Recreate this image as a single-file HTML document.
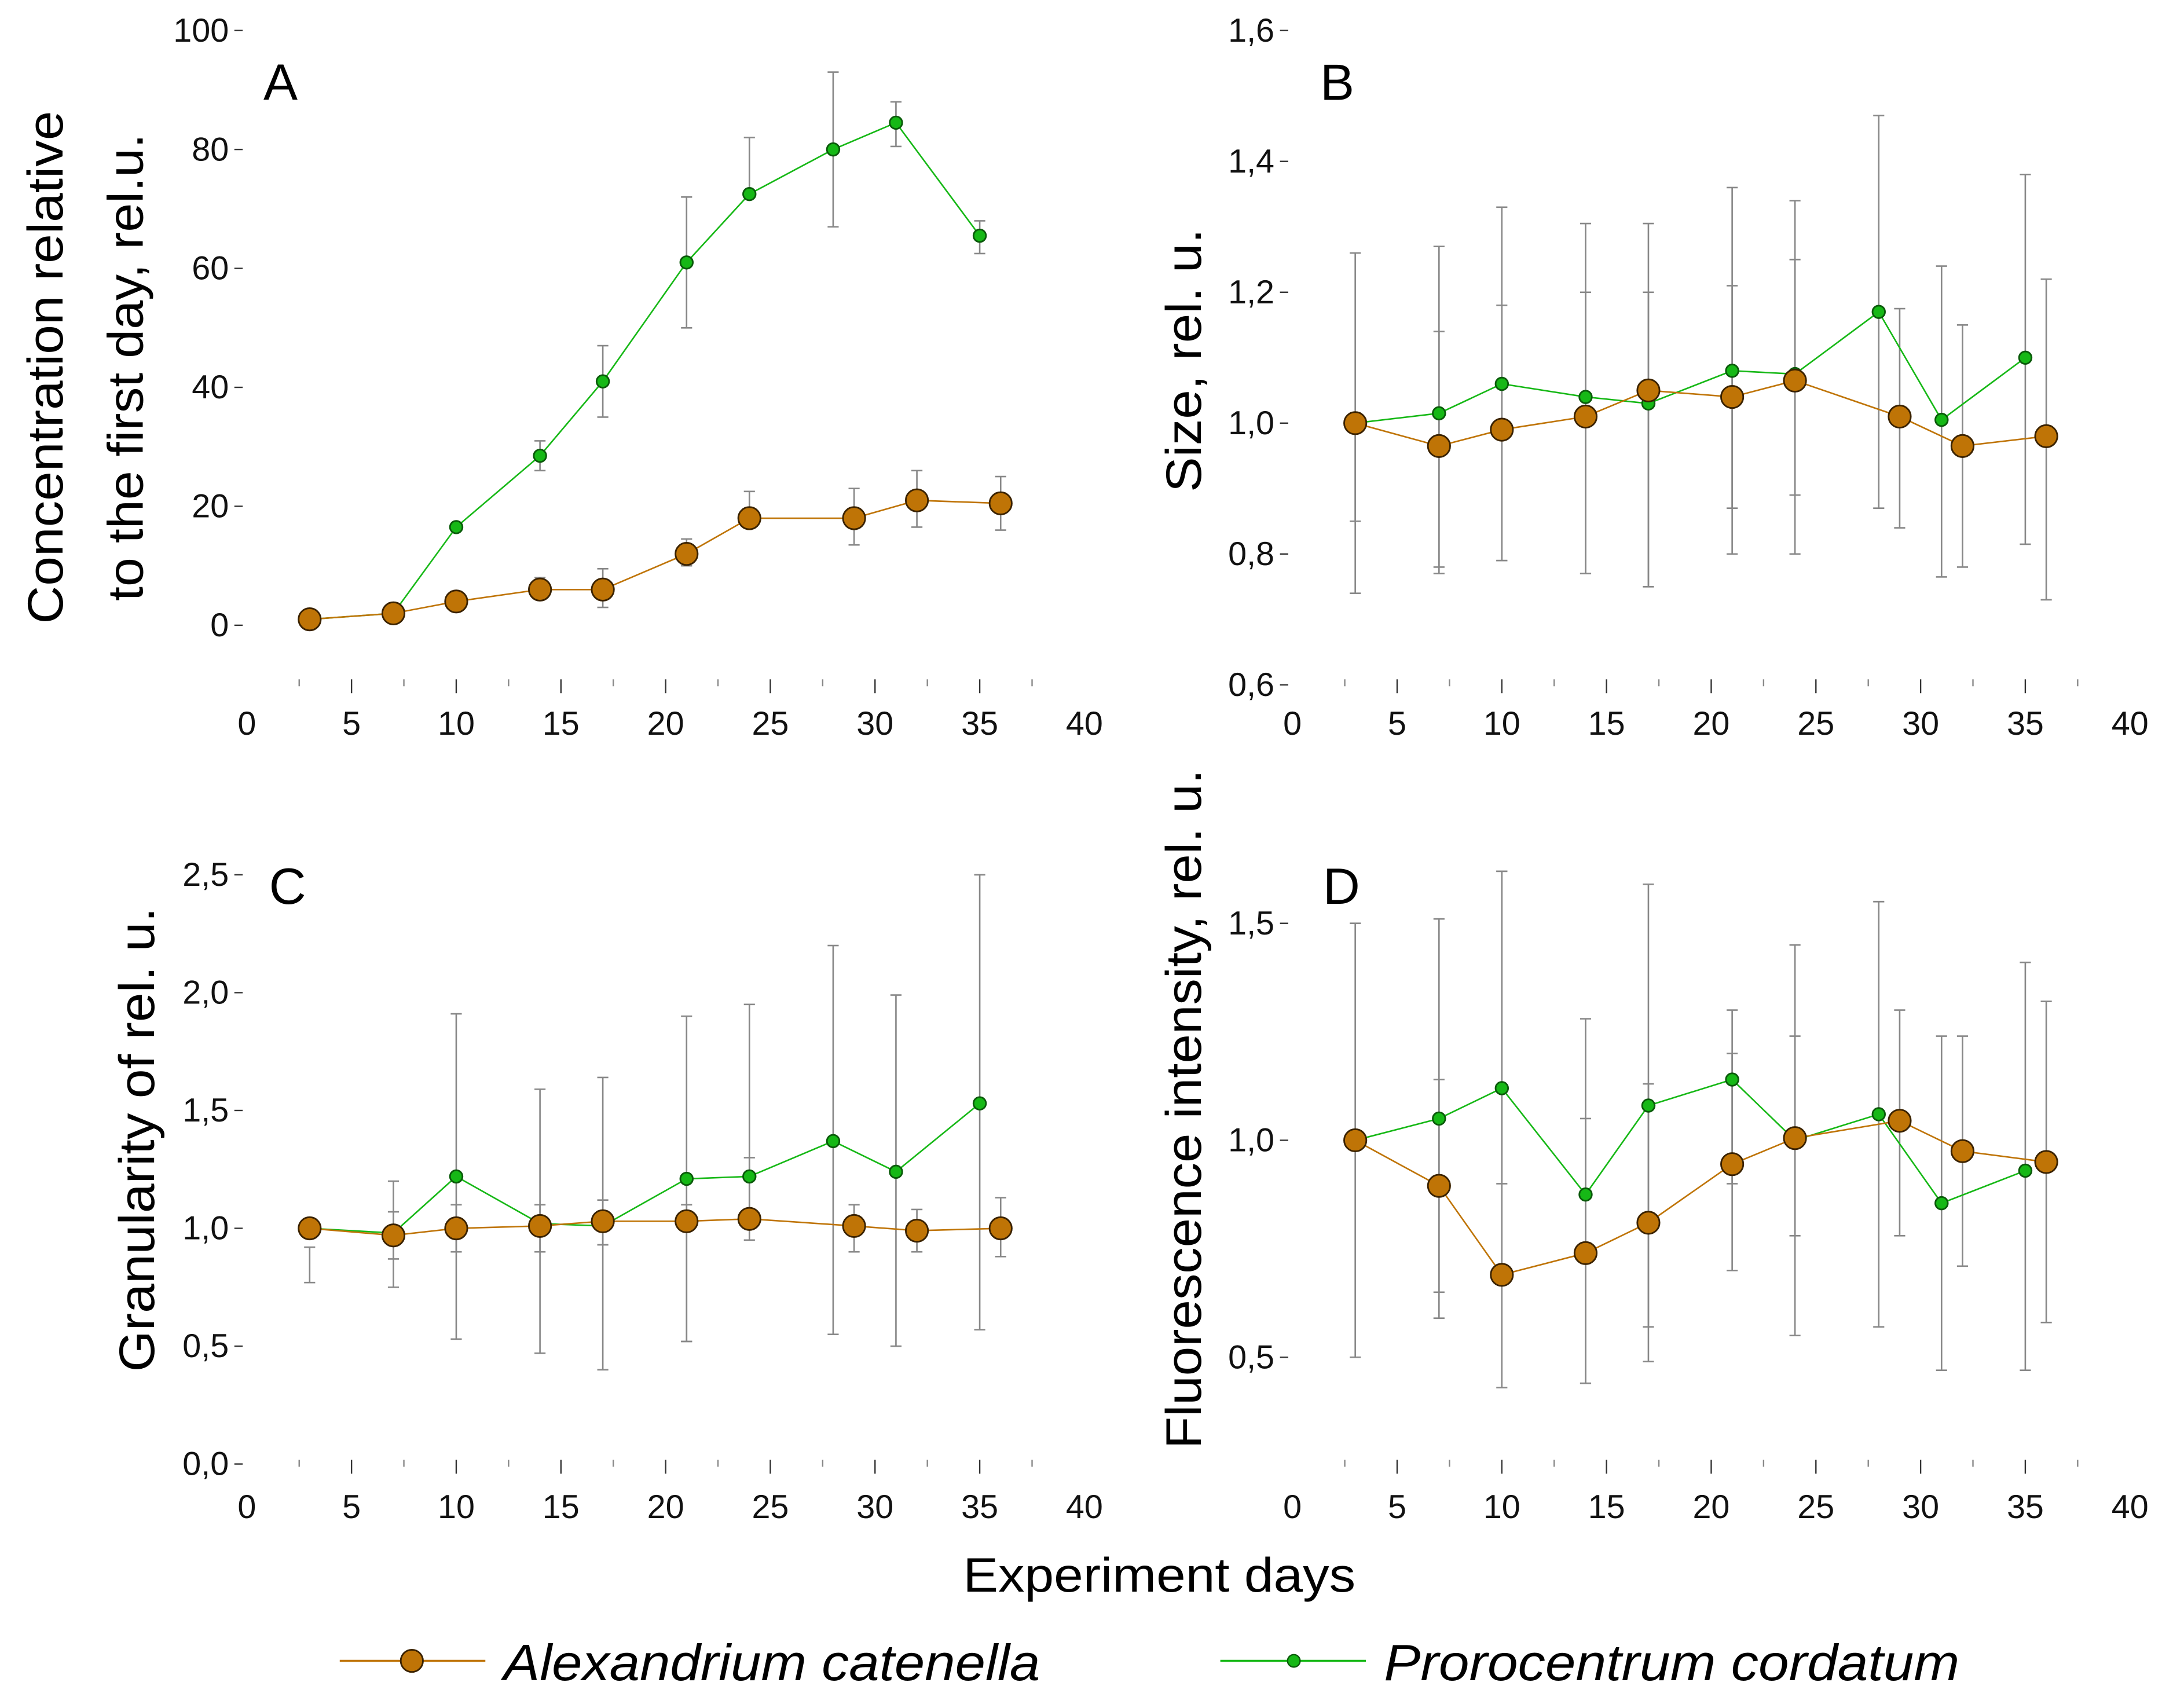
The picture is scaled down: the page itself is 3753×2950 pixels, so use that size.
<!DOCTYPE html>
<html><head><meta charset="utf-8">
<style>
html,body{margin:0;padding:0;background:#fff;}
svg{display:block;}
text{font-family:"Liberation Sans",sans-serif;}
</style></head>
<body>
<svg id="chart" width="3753" height="2950" viewBox="0 0 1567 1232" preserveAspectRatio="none" xmlns="http://www.w3.org/2000/svg"></svg>
<script>
const daysA = [3,7,10,14,17,21,24,29,32,36];
const daysP = [3,7,10,14,17,21,24,28,31,35];
const xTicks = [0,5,10,15,20,25,30,35,40];

const aVals = [1,2,4,6,6,12,18,18,21,20.5];
const aLo = [1,1.5,3,4.5,3,10,17,13.5,16.5,16];
const aHi = [1,2.5,5,8,9.5,14.5,22.5,23,26,25];
const pVals = [1,2,16.5,28.5,41,61,72.5,80,84.5,65.5];
const pLo = [1,2,16,26,35,50,72,67,80.5,62.5];
const pHi = [1,2,17,31,47,72,82,93,88,68];

const bAVals = [1.0,0.965,0.99,1.01,1.05,1.04,1.065,1.01,0.965,0.98];
const bALo = [0.74,0.77,0.79,0.77,0.75,0.80,0.80,0.84,0.78,0.73];
const bAHi = [1.26,1.27,1.33,1.305,1.305,1.36,1.34,1.175,1.15,1.22];
const bPVals = [1.0,1.015,1.06,1.04,1.03,1.08,1.075,1.17,1.005,1.10];
const bPLo = [0.85,0.78,0.79,0.77,0.75,0.87,0.89,0.87,0.765,0.815];
const bPHi = [1.0,1.14,1.18,1.2,1.2,1.21,1.25,1.47,1.24,1.38];

const cAVals = [1.0,0.97,1.0,1.01,1.03,1.03,1.04,1.01,0.99,1.0];
const cALo = [0.77,0.75,0.9,0.9,0.93,0.52,0.95,0.9,0.9,0.88];
const cAHi = [0.92,1.2,1.1,1.1,1.12,1.1,1.95,1.1,1.08,1.13];
const cPVals = [1.0,0.98,1.22,1.02,1.01,1.21,1.22,1.37,1.24,1.53];
const cPLo = [1.0,0.87,0.53,0.47,0.4,0.52,1.0,0.55,0.5,0.57];
const cPHi = [1.0,1.07,1.91,1.59,1.64,1.9,1.3,2.2,1.99,2.5];

const dAVals = [1.0,0.895,0.69,0.74,0.81,0.945,1.005,1.045,0.975,0.95];
const dALo = [0.5,0.59,0.43,0.44,0.49,0.7,0.55,0.78,0.71,0.58];
const dAHi = [1.5,1.51,1.62,1.28,1.59,1.3,1.45,1.3,1.24,1.32];
const dPVals = [1.0,1.05,1.12,0.875,1.08,1.14,1.0,1.06,0.855,0.93];
const dPLo = [1.0,0.65,0.9,0.44,0.57,0.9,0.78,0.57,0.47,0.47];
const dPHi = [1.0,1.14,1.62,1.05,1.13,1.2,1.24,1.55,1.24,1.41];

const ticksA = [0,20,40,60,80,100];
const labelsA = ["0","20","40","60","80","100"];
const ticksB = [0.6,0.8,1.0,1.2,1.4,1.6];
const labelsB = ["0,6","0,8","1,0","1,2","1,4","1,6"];
const ticksC = [0,0.5,1,1.5,2,2.5];
const labelsC = ["0,0","0,5","1,0","1,5","2,0","2,5"];
const ticksD = [0.5,1.0,1.5];
const labelsD = ["0,5","1,0","1,5"];

const NS = "http://www.w3.org/2000/svg";
const svg = document.getElementById('chart');
function mk(tag, attrs, parent){
  const e = document.createElementNS(NS, tag);
  for (const k in attrs) e.setAttribute(k, attrs[k]);
  (parent||svg).appendChild(e);
  return e;
}
const ORANGE="#BF7406", GREEN="#16B816";

function panel(cfg){
  const g = mk('g',{});
  
  
  const xs = v => cfg.x0 + v * (cfg.x40 - cfg.x0) / 40;
  const ys = v => cfg.y0 + (v - cfg.v0) * (cfg.y1 - cfg.y0) / (cfg.v1 - cfg.v0);
  xTicks.forEach(t=>{
    const tl = mk('text',{x:xs(t),y:cfg.xLabY,'font-size':24,'text-anchor':'middle',fill:'#111'},g);
    tl.textContent = t;
    
    
    if (t>0 && t<40){
      const tk = mk('line',{x1:xs(t),x2:xs(t),y1:cfg.xTickY-5,y2:cfg.xTickY+5,stroke:'#333','stroke-width':1},g);
      
      
    }
    if (t<40){
      const mt = mk('line',{x1:xs(t+2.5),x2:xs(t+2.5),y1:cfg.xTickY-5,y2:cfg.xTickY,stroke:'#888','stroke-width':1},g);
      
      
    }
  });
  cfg.ticks.forEach((t,i)=>{
    const y = ys(t);
    const tl = mk('text',{x:cfg.yLabX,y:y+8,'font-size':24,'text-anchor':'end',fill:'#111'},g);
    tl.textContent = cfg.labels[i];
    
    
    const tk = mk('line',{x1:cfg.yLabX+4,x2:cfg.yLabX+10,y1:y,y2:y,stroke:'#333','stroke-width':1},g);
    
    
  });
  const lt = mk('text',{x:cfg.letX,y:cfg.letY,'font-size':37,fill:'#000'},g);
  lt.textContent = cfg.letter;
  
  
  cfg.title.forEach((line,i)=>{
    const tx = cfg.titleX + i*58, ty = cfg.titleY;
    const tt = mk('text',{x:tx,y:ty,'font-size':36,'text-anchor':'middle',fill:'#000',textLength:cfg.tlen[i],lengthAdjust:'spacingAndGlyphs',transform:`rotate(-90 ${tx} ${ty})`},g);
    tt.textContent = line;
    
    
  });
  cfg.series.forEach(s=>{
    s.days.forEach((d,i)=>{
      const x = xs(d);
      if (s.hi[i]===s.lo[i]) return;
      const eb = mk('line',{x1:x,x2:x,y1:ys(s.lo[i]),y2:ys(s.hi[i]),stroke:'#888','stroke-width':1.1},g);
      
      
      [s.lo[i],s.hi[i]].forEach(v=>{
        const cap = mk('line',{x1:x-4,x2:x+4,y1:ys(v),y2:ys(v),stroke:'#888','stroke-width':1.1},g);
        
        
      });
    });
  });
  cfg.series.forEach(s=>{
    const pts = s.days.map((d,i)=>xs(d)+','+ys(s.vals[i])).join(' ');
    const pl = mk('polyline',{points:pts,fill:'none',stroke:s.color,'stroke-width':1.1},g);
    
    
  });
  cfg.series.forEach(s=>{
    s.days.forEach((d,i)=>{
      const c = mk('circle',{cx:xs(d),cy:ys(s.vals[i]),r:s.r,fill:s.color,stroke:s.stroke,'stroke-width':1.2},g);
      
      
    });
  });
}

function series(pv,pl,ph,av,al,ah){
  return [
    {name:'prorocentrum',days:daysP,vals:pv,lo:pl,hi:ph,color:GREEN,stroke:'#0a5a0a',r:4.5},
    {name:'alexandrium',days:daysA,vals:av,lo:al,hi:ah,color:ORANGE,stroke:'#3a2200',r:8}
  ];
}

panel({letter:'A',x0:178,x40:782,v0:0,v1:100,y0:451,y1:22,ticks:ticksA,labels:labelsA,yLabX:165,
  xTickY:495,xLabY:530,letX:190,letY:72,titleX:45,titleY:265,tlen:[370,337],
  title:['Concentration relative','to the first day, rel.u.'],
  series:series(pVals,pLo,pHi,aVals,aLo,aHi)});
panel({letter:'B',x0:932,x40:1536,v0:0.6,v1:1.6,y0:494,y1:22,ticks:ticksB,labels:labelsB,yLabX:919,
  xTickY:495,xLabY:530,letX:952,letY:72,titleX:866,titleY:260,tlen:[190],
  title:['Size, rel. u.'],
  series:series(bPVals,bPLo,bPHi,bAVals,bALo,bAHi)});
panel({letter:'C',x0:178,x40:782,v0:0,v1:2.5,y0:1056,y1:631,ticks:ticksC,labels:labelsC,yLabX:165,
  xTickY:1058,xLabY:1095,letX:194,letY:652,titleX:111,titleY:822,tlen:[335],
  title:['Granularity of rel. u.'],
  series:series(cPVals,cPLo,cPHi,cAVals,cALo,cAHi)});
panel({letter:'D',x0:932,x40:1536,v0:0.5,v1:1.5,y0:979,y1:666,ticks:ticksD,labels:labelsD,yLabX:919,
  xTickY:1058,xLabY:1095,letX:954,letY:652,titleX:866,titleY:800,tlen:[490],
  title:['Fluorescence intensity, rel. u.'],
  series:series(dPVals,dPLo,dPHi,dAVals,dALo,dAHi)});

const xt = mk('text',{x:836,y:1148,'font-size':35,'text-anchor':'middle',fill:'#000',textLength:283,lengthAdjust:'spacingAndGlyphs'});
xt.textContent = 'Experiment days';



const lg = mk('g',{});


const e1 = mk('g',{},lg);


mk('line',{x1:245,x2:350,y1:1198,y2:1198,stroke:ORANGE,'stroke-width':1.5},e1);
mk('circle',{cx:297,cy:1198,r:8,fill:ORANGE,stroke:'#3a2200','stroke-width':1.2},e1);
const t1 = mk('text',{x:363,y:1212,'font-size':37,'font-style':'italic',fill:'#000',textLength:387,lengthAdjust:'spacingAndGlyphs'},e1);
t1.textContent = 'Alexandrium catenella';
const e2 = mk('g',{},lg);


mk('line',{x1:880,x2:985,y1:1198,y2:1198,stroke:GREEN,'stroke-width':1.5},e2);
mk('circle',{cx:933,cy:1198,r:4.5,fill:GREEN,stroke:'#0a5a0a','stroke-width':1},e2);
const t2 = mk('text',{x:998,y:1212,'font-size':37,'font-style':'italic',fill:'#000',textLength:415,lengthAdjust:'spacingAndGlyphs'},e2);
t2.textContent = 'Prorocentrum cordatum';
</script>
</body></html>
